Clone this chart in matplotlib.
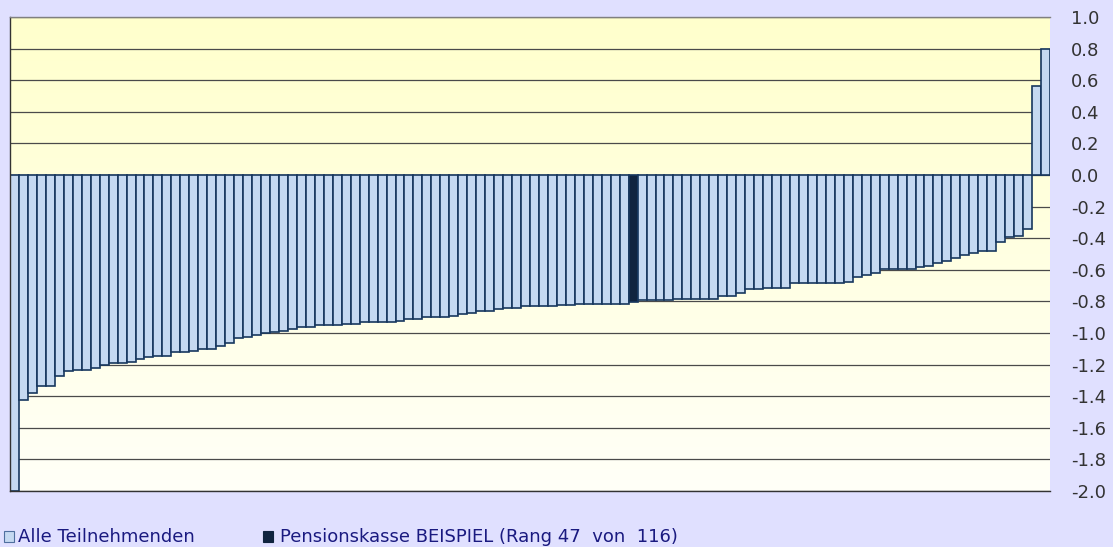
import numpy as np
import matplotlib
matplotlib.use("Agg")
import matplotlib.pyplot as plt
from matplotlib.patches import Rectangle

plt.rcParams['axes.unicode_minus'] = False
plt.rcParams['font.family'] = 'DejaVu Sans'

# sorted values of all participants, left to right
werte = [-2.00, -1.424, -1.382, -1.333, -1.333, -1.274, -1.243, -1.232, -1.232, -1.222,
         -1.203, -1.192, -1.192, -1.181, -1.165, -1.154, -1.143, -1.143, -1.122, -1.122,
         -1.114, -1.103, -1.103, -1.082, -1.063, -1.034, -1.023, -1.013, -1.002, -0.996,
         -0.985, -0.975, -0.962, -0.962, -0.951, -0.951, -0.951, -0.943, -0.943, -0.932,
         -0.932, -0.932, -0.932, -0.922, -0.911, -0.911, -0.901, -0.901, -0.901, -0.890,
         -0.882, -0.871, -0.861, -0.861, -0.850, -0.840, -0.840, -0.831, -0.831, -0.831,
         -0.830, -0.823, -0.823, -0.814, -0.814, -0.814, -0.814, -0.814, -0.814, -0.806,
         -0.793, -0.793, -0.793, -0.793, -0.783, -0.783, -0.783, -0.783, -0.783, -0.764,
         -0.764, -0.745, -0.724, -0.724, -0.713, -0.713, -0.713, -0.684, -0.684, -0.684,
         -0.684, -0.684, -0.684, -0.675, -0.643, -0.633, -0.622, -0.593, -0.593, -0.593,
         -0.593, -0.584, -0.574, -0.555, -0.544, -0.525, -0.504, -0.494, -0.483, -0.483,
         -0.424, -0.395, -0.384, -0.344, 0.565, 0.795]
rang = 47
n = len(werte)
idx_kasse = n - rang  # position counted from the left

yticks = [-2.0, -1.8, -1.6, -1.4, -1.2, -1.0, -0.8, -0.6, -0.4, -0.2,
          0.0, 0.2, 0.4, 0.6, 0.8, 1.0]
ylabels = ['%.1f' % v for v in yticks]
leg_alle = "Alle Teilnehmenden"
leg_kasse = "Pensionskasse BEISPIEL (Rang %d  von  %d)" % (rang, n)

fig = plt.figure(figsize=(11.13, 5.47), dpi=100)
fig.patch.set_facecolor('#E0E0FF')
ax = fig.add_axes([10/1113, 1-491/547, 1040/1113, 474/547])

# yellow -> white gradient background
grad = np.linspace(0, 1, 256).reshape(-1, 1)
top = np.array([255, 255, 204]) / 255
bot = np.array([255, 255, 248]) / 255
img = top[None, None, :] * (1 - grad[:, :, None]) + bot[None, None, :] * grad[:, :, None]
ax.imshow(img, extent=[-0.5, n - 0.5, -2.0, 1.0], aspect='auto', zorder=0)

for y in yticks:
    ax.axhline(y, color='#4a4a4a', lw=0.9, zorder=1)

x = np.arange(n)
farben = ['#C5D9F1'] * n
farben[idx_kasse] = '#10243F'
ax.bar(x, werte, width=1.0, color=farben, edgecolor='#17375E', lw=1.2, zorder=2)

ax.set_xlim(-0.5, n - 0.5)
ax.set_ylim(-2.0, 1.0)
ax.set_xticks([])
ax.set_yticks(yticks)
ax.set_yticklabels(ylabels)
ax.yaxis.tick_right()
ax.tick_params(axis='y', length=0, pad=15, labelsize=13, labelcolor='#333333')
ax.spines['right'].set_visible(False)
ax.spines['top'].set_color('#808080')
ax.spines['left'].set_color('#333333')
ax.spines['bottom'].set_color('#333333')
for s in ax.spines.values():
    s.set_linewidth(1.0)

# legend
fig.patches.append(Rectangle((4/1113, 1-542/547), 10/1113, 11/547, transform=fig.transFigure,
                             facecolor='#C5D9F1', edgecolor='#4F6F9F', lw=0.8))
fig.text(18/1113, 1-537/547, leg_alle, fontsize=13, color='#1A1A80', va='center')
fig.patches.append(Rectangle((263/1113, 1-542/547), 10/1113, 11/547, transform=fig.transFigure,
                             facecolor='#10243F', edgecolor='#10243F', lw=0.8))
fig.text(280/1113, 1-537/547, leg_kasse, fontsize=13, color='#1A1A80', va='center')

fig.savefig('out.png', dpi=100, facecolor=fig.get_facecolor())
